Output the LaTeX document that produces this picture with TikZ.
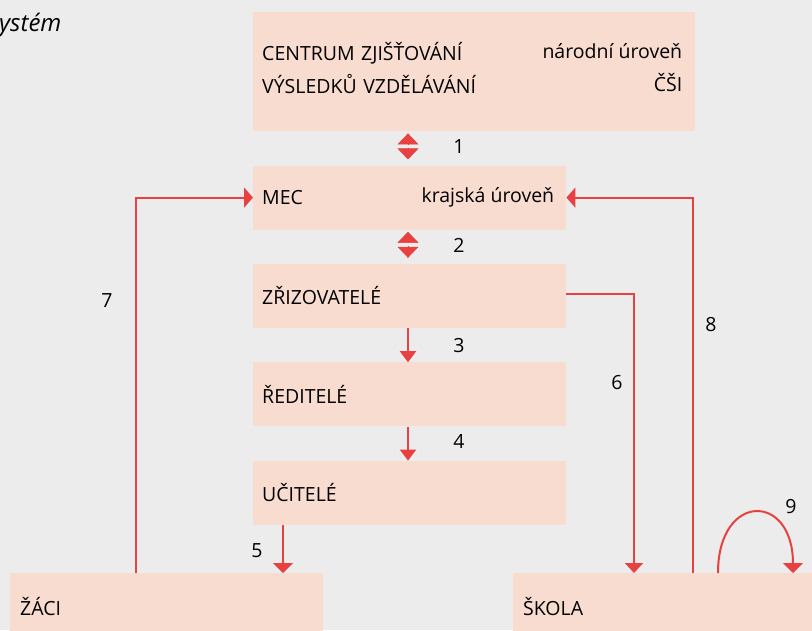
\documentclass[tikz,border=0pt]{standalone}
\usepackage{fontspec}
\setmainfont{Open Sans}
\usepackage{tikz}
\usetikzlibrary{positioning,arrows.meta}
\definecolor{bggray}{RGB}{236,236,236}
\definecolor{boxpink}{RGB}{249,220,208}
\definecolor{linkred}{RGB}{232,65,65}

\begin{document}
\begin{tikzpicture}[%
    x=1pt,
    y=-1pt,
    font=\fontsize{19.5}{23}\selectfont,
    >={Triangle[width=18pt,length=10pt]},
    node distance=34pt,
    level/.style={%
      rectangle,
      fill=boxpink,
      anchor=north west,
      inner xsep=9pt,
      inner ysep=0pt,
      minimum height=64pt,
      text width=295pt,
      align=left
    },
    link/.style={->, draw=linkred, line width=2pt},
    halftip/.style={-{Triangle[width=21pt,length=11pt]}, draw=linkred, line width=0.4pt},
    num/.style={inner sep=0pt}
  ]
    \useasboundingbox (0,0) rectangle (812,630);
    \fill[bggray] (0,0) rectangle (812,630);

    \node[anchor=west, inner sep=0pt, font=\fontsize{24}{28}\selectfont\itshape] (sys) at (-1,25) {ystém};

    % levels
    \node[level, minimum height=119pt, text width=424pt, font=\fontsize{19.5}{33}\selectfont] (czv) at (253,12)
      {CENTRUM ZJIŠŤOVÁNÍ\\VÝSLEDKŮ VZDĚLÁVÁNÍ\rule[-8pt]{0pt}{8pt}};
    \node[anchor=east, inner sep=0pt, align=right, font=\fontsize{19.5}{33}\selectfont] (narodni) at ([xshift=-13pt]czv.east)
      {národní úroveň\\ČŠI\rule[-8pt]{0pt}{8pt}};
    \node[level, below=of czv.south west, anchor=north west] (mec)  {MEC};
    \node[anchor=east, inner sep=0pt] (krajska) at ([xshift=-12pt]mec.east) {krajská úroveň};
    \node[level, below=of mec.south west, anchor=north west]  (zriz) {ZŘIZOVATELÉ};
    \node[level, below=of zriz.south west, anchor=north west] (red)  {ŘEDITELÉ};
    \node[level, below=of red.south west, anchor=north west]  (uc)   {UČITELÉ};
    \node[level, minimum height=66pt, inner xsep=10pt, text width=293pt] (zaci)  at (10,573)  {ŽÁCI};
    \node[level, minimum height=66pt, inner xsep=10pt, text width=320pt] (skola) at (513,573) {ŠKOLA};

    % double tips 1 and 2
    \coordinate (d1a) at (408,144);
    \coordinate (d1b) at (408,148);
    \coordinate (d2a) at (408,242);
    \coordinate (d2b) at (408,246);
    \draw[halftip, shorten >=2pt] (d1a) -- (czv.south -| d1a);
    \draw[halftip, shorten >=6pt] (d1b) -- (mec.north -| d1b);
    \draw[halftip, shorten >=2pt] (d2a) -- (mec.south -| d2a);
    \draw[halftip, shorten >=6pt] (d2b) -- (zriz.north -| d2b);

    % arrows
    \draw[link, >={Triangle[width=16pt,length=11pt]}] ([xshift=155pt]zriz.south west) -- ([xshift=155pt]red.north west);
    \draw[link, >={Triangle[width=16pt,length=11pt]}] ([xshift=155pt]red.south west) -- ([xshift=155pt]uc.north west);
    \draw[link, >={Triangle[width=20pt,length=10pt]}] ([xshift=30pt]uc.south west) -- ([xshift=273pt]zaci.north west);
    \draw[link] ([yshift=2pt]zriz.east) -| ([xshift=121pt]skola.north west);
    \draw[link, >={Triangle[width=20pt,length=9pt]}] ([xshift=126pt]zaci.north west) |- (mec.west);
    \draw[link, >={Triangle[width=20pt,length=9pt]}] ([xshift=180pt]skola.north west) |- (mec.east);
    \draw[link, >={Triangle[width=20pt,length=10pt]}] ([xshift=205pt]skola.north west)
      .. controls +(0,-81) and +(0,-81) .. ([xshift=280pt]skola.north west);

    % numbers
    \node[num] (n1) at (459,147) {1};
    \node[num] (n2) at (459,245) {2};
    \node[num] (n3) at (459,346) {3};
    \node[num] (n4) at (459,441) {4};
    \node[num] (n5) at (257,551) {5};
    \node[num] (n6) at (617,383) {6};
    \node[num] (n7) at (107,301) {7};
    \node[num] (n8) at (711,325) {8};
    \node[num] (n9) at (791,507) {9};
\end{tikzpicture}
\end{document}
